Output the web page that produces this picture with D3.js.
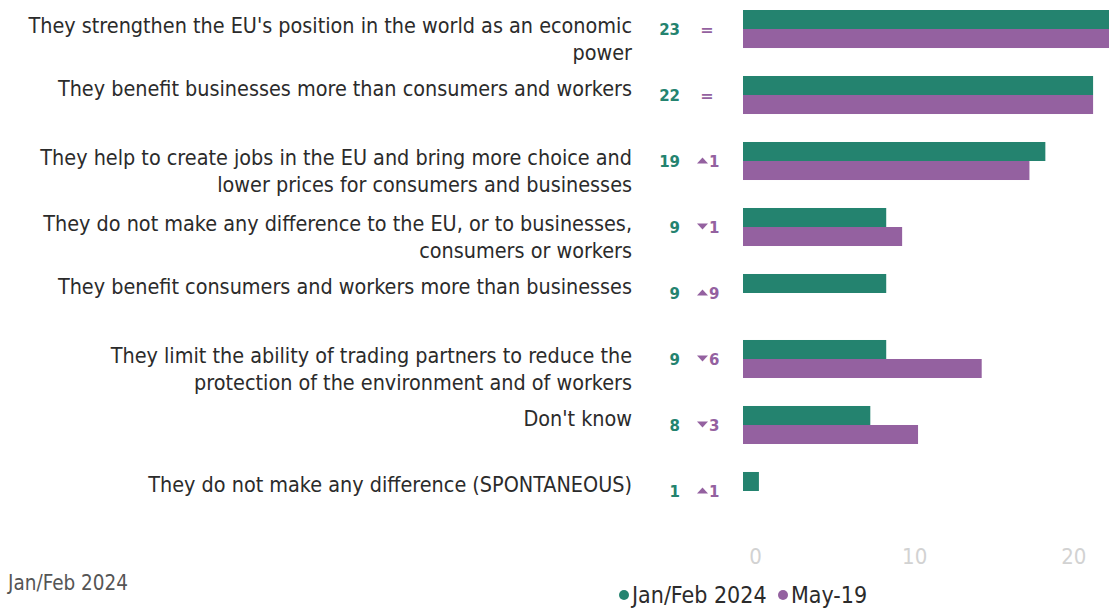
<!DOCTYPE html>
<html>
<head>
<meta charset="utf-8">
<script src="https://cdn.jsdelivr.net/npm/d3@7"></script>
<style>
  html, body { margin: 0; padding: 0; background: #fff; }
  svg { display: block; }
</style>
</head>
<body>
<svg id="chart" width="1116" height="608"></svg>
<script>
// Answer options, each split into the lines it is printed on
const categories = [
  ["They strengthen the EU's position in the world as an economic", "power"],
  ["They benefit businesses more than consumers and workers"],
  ["They help to create jobs in the EU and bring more choice and", "lower prices for consumers and businesses"],
  ["They do not make any difference to the EU, or to businesses,", "consumers or workers"],
  ["They benefit consumers and workers more than businesses"],
  ["They limit the ability of trading partners to reduce the", "protection of the environment and of workers"],
  ["Don't know"],
  ["They do not make any difference (SPONTANEOUS)"]
];
const seriesNames = ["Jan/Feb 2024", "May-19"];
const janFeb2024 = [23, 22, 19, 9, 9, 9, 8, 1];
const may19 = [23, 22, 18, 10, 0, 15, 11, 0];
const xTicks = [0, 10, 20];
const footnote = "Jan/Feb 2024";

const GREEN = "#24836f";
const PURPLE = "#9461a0";
const FONT = '"DejaVu Sans Condensed", "Liberation Sans Narrow", Roboto, sans-serif';
const BOLD = '"DejaVu Sans", sans-serif';

const svg = d3.select("#chart");

const keys = categories.map((c, i) => i);
const rows = keys.map(i => ({
  i, lines: categories[i],
  values: [janFeb2024[i], may19[i]],
  diff: janFeb2024[i] - may19[i]
}));

const x = d3.scaleLinear().domain([0, 23]).range([743, 1109]);
const y = d3.scaleBand().domain(keys).range([10, 510]).paddingInner(0.424).paddingOuter(0);
const ySeries = d3.scaleBand().domain([0, 1]).range([0, y.bandwidth()]);
const color = d3.scaleOrdinal().domain([0, 1]).range([GREEN, PURPLE]);
const mid = i => y(i) + y.bandwidth() / 2;

// Bars
const groups = svg.append("g").selectAll("g").data(rows).join("g")
  .attr("transform", d => `translate(0,${y(d.i)})`);

groups.selectAll("rect").data(d => d.values.map((v, s) => ({ v, s }))).join("rect")
  .attr("x", x(0))
  .attr("y", d => ySeries(d.s))
  .attr("width", d => Math.max(0, x(d.v) - x(0)))
  .attr("height", ySeries.bandwidth())
  .attr("fill", d => color(d.s));

// Category labels
const labels = svg.append("g").selectAll("text").data(rows).join("text")
  .attr("text-anchor", "end")
  .attr("x", 632)
  .attr("y", d => mid(d.i) + (d.lines.length > 1 ? -3 : -6))
  .attr("font-size", 21.4)
  .attr("fill", "#2b2b2b")
  .style("font-family", FONT);
labels.selectAll("tspan").data(d => d.lines).join("tspan")
  .attr("x", 632)
  .attr("dy", (l, k) => k === 0 ? "0.35em" : 27)
  .text(l => l);

// Current value
svg.append("g").selectAll("text").data(rows).join("text")
  .attr("x", 680)
  .attr("y", d => mid(d.i) + 0.5)
  .attr("dy", "0.35em")
  .attr("text-anchor", "end")
  .attr("font-size", 15)
  .attr("font-weight", "bold")
  .attr("fill", GREEN)
  .style("font-family", BOLD)
  .text(d => d.values[0]);

// Change since May-19: arrow and size of the change, or "=" when unchanged
const chg = svg.append("g").selectAll("g").data(rows).join("g")
  .attr("transform", d => `translate(0,${mid(d.i) + 0.5})`);
chg.filter(d => d.diff === 0).append("text")
  .attr("x", 707)
  .attr("dy", "0.35em")
  .attr("text-anchor", "middle")
  .attr("font-size", 16)
  .attr("font-weight", "bold")
  .attr("fill", PURPLE)
  .style("font-family", BOLD)
  .text("=");
const moved = chg.filter(d => d.diff !== 0);
moved.append("path")
  .attr("fill", PURPLE)
  .attr("d", d => d.diff > 0
    ? "M697,2 L708,2 L702.5,-4 Z"
    : "M697,-4 L708,-4 L702.5,2 Z");
moved.append("text")
  .attr("x", 709)
  .attr("dy", "0.35em")
  .attr("font-size", 15)
  .attr("font-weight", "bold")
  .attr("fill", PURPLE)
  .style("font-family", BOLD)
  .text(d => Math.abs(d.diff));

// X axis
const axis = svg.append("g")
  .attr("transform", "translate(0,548)")
  .call(d3.axisBottom(x).tickValues(xTicks).tickSize(0).tickPadding(0));
axis.select(".domain").remove();
axis.selectAll("text")
  .attr("dx", 12)
  .attr("dy", "0.71em")
  .attr("font-size", 22)
  .attr("fill", "#d2d2d2")
  .style("font-family", FONT);

// Legend
const legendX = [624, 783];
const legend = svg.append("g").selectAll("g").data(seriesNames).join("g")
  .attr("transform", (d, s) => `translate(${legendX[s]},595)`);
legend.append("circle").attr("r", 5).attr("fill", (d, s) => color(s));
legend.append("text")
  .attr("x", 8)
  .attr("dy", "0.35em")
  .attr("font-size", 23)
  .attr("fill", "#2b2b2b")
  .style("font-family", FONT)
  .text(d => d);

// Footnote
svg.append("text")
  .attr("x", 8)
  .attr("y", 590)
  .attr("font-size", 20.5)
  .attr("fill", "#555")
  .style("font-family", FONT)
  .text(footnote);
</script>
</body>
</html>
